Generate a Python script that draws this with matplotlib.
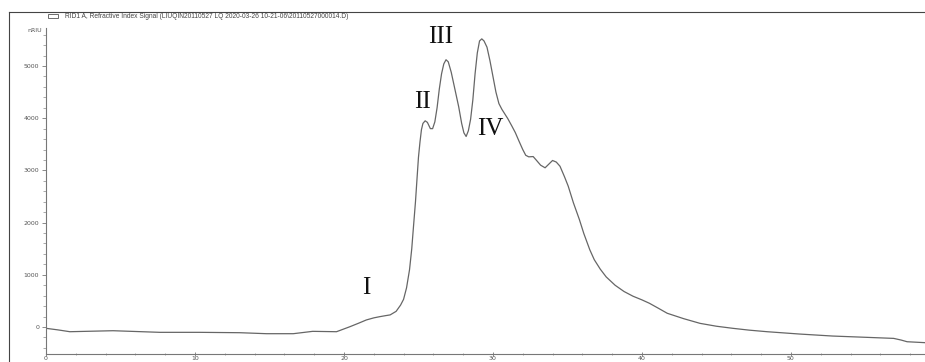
import numpy as np
import matplotlib
matplotlib.use("Agg")
import matplotlib.pyplot as plt
from matplotlib.ticker import MultipleLocator
from matplotlib.lines import Line2D
from matplotlib.patches import Rectangle

# retention time (min) and RI signal (nRIU)
time_min = [0.0, 0.8, 1.6, 4.5, 7.65, 10.3, 13.0, 14.8, 16.6, 17.9, 19.5, 20.4,
            21.0, 21.5, 22.0, 22.4, 22.8, 23.1, 23.5, 23.8, 24.0, 24.2, 24.4,
            24.55, 24.65, 24.8, 24.9, 25.0, 25.1, 25.2, 25.3, 25.45, 25.6,
            25.8, 25.95, 26.1, 26.25, 26.4, 26.55, 26.7, 26.85, 27.0, 27.2,
            27.45, 27.7, 27.9, 28.05, 28.2, 28.35, 28.5, 28.65, 28.8, 28.95,
            29.1, 29.25, 29.4, 29.6, 29.8, 30.0, 30.2, 30.4, 30.6, 30.8, 31.0,
            31.25, 31.5, 31.75, 32.0, 32.2, 32.4, 32.7, 32.9, 33.2, 33.5,
            33.75, 34.0, 34.25, 34.5, 34.8, 35.05, 35.4, 35.8, 36.1, 36.5,
            36.8, 37.2, 37.6, 38.2, 38.8, 39.4, 40.0, 40.5, 41.1, 41.7, 42.8,
            43.9, 45.0, 46.1, 47.2, 48.4, 50.6, 52.8, 55.1, 56.9, 57.4, 57.8,
            59.0]
signal = [-25, -55, -90, -71, -102, -102, -109, -128, -128, -83, -90, 6,
          75, 135, 175, 198, 218, 232, 300, 420, 530, 750, 1096,
          1500, 1865, 2400, 2827, 3250, 3538, 3780, 3900, 3950, 3920,
          3800, 3800, 3930, 4200, 4560, 4850, 5040, 5120, 5080, 4880,
          4550, 4220, 3900, 3720, 3650, 3760, 3980, 4350, 4850, 5250,
          5480, 5520, 5480, 5360, 5100, 4800, 4500, 4280, 4170, 4080, 3990,
          3860, 3725, 3560, 3400, 3290, 3260, 3265, 3200, 3100, 3050,
          3120, 3190, 3160, 3080, 2880, 2700, 2380, 2060, 1790, 1480,
          1290, 1110, 960, 800, 680, 590, 520, 455, 360, 263, 160,
          70, 15, -25, -60, -90, -135, -173, -198, -218, -250, -282,
          -300]

peak_names = ["I", "II", "III", "IV"]
peak_t = [21.5, 25.3, 26.5, 29.8]
peak_v = [750, 4310, 5560, 3790]

header = "RID1 A, Refractive Index Signal (LIUQIN20110527 LQ 2020-03-26 10-21-06\\20110527000014.D)"

fig = plt.figure(figsize=(9.25, 3.62), dpi=100)
ax = fig.add_axes([46/925, 1 - 354/362, 879/925, (354 - 28)/362])

ax.plot(time_min, signal, color="#666666", lw=0.9)

for name, t, v in zip(peak_names, peak_t, peak_v):
    ax.text(t, v, name, family="Liberation Serif", fontsize=18,
            ha="center", va="center", color="#111111")

ax.set_xlim(0, 59.0)
ax.set_ylim(-517, 5728)
ax.xaxis.set_major_locator(MultipleLocator(10))
ax.xaxis.set_minor_locator(MultipleLocator(2))
ax.yaxis.set_major_locator(MultipleLocator(1000))
ax.yaxis.set_minor_locator(MultipleLocator(200))
ax.set_yticks([0, 1000, 2000, 3000, 4000, 5000])

for s in ["top", "right"]:
    ax.spines[s].set_visible(False)
for s in ["left", "bottom"]:
    ax.spines[s].set_color("#777777")
    ax.spines[s].set_linewidth(0.8)

ax.tick_params(which="major", length=3, width=0.6, color="#777777",
               labelsize=4.5, labelcolor="#555555", pad=2)
ax.tick_params(which="minor", length=2, width=0.5, color="#888888")
ax.tick_params(axis="x", which="both", direction="inout", pad=0.3)

ax.text(-0.004, 1.0, "nRIU", transform=ax.transAxes, fontsize=4.5,
        color="#555555", ha="right", va="top")

# outer frame and header
fig.add_artist(Line2D([9/925, 9/925], [0, 1 - 12/362], color="#444444", lw=0.8))
fig.add_artist(Line2D([9/925, 1], [1 - 12/362, 1 - 12/362], color="#444444", lw=0.8))
fig.add_artist(Rectangle((48/925, 1 - 18/362), 10/925, 4/362, fill=False,
                         edgecolor="#555555", lw=0.6))
fig.text(65/925, 1 - 16/362, header, fontsize=4.8, family="Liberation Sans",
         color="#444444", va="center", ha="left")

fig.savefig("out.png", dpi=100, facecolor="white")
